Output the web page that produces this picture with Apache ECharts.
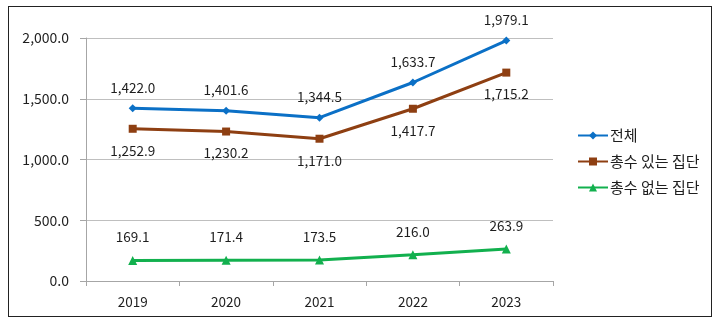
<!DOCTYPE html>
<html>
<head>
<meta charset="utf-8">
<script src="https://cdn.jsdelivr.net/npm/echarts@6/dist/echarts.min.js"></script>
<style>
html,body{margin:0;padding:0;background:#fff;}
#frame{position:absolute;left:8px;top:6px;width:704px;height:311px;border:1px solid #222;box-sizing:border-box;}
#chart{position:absolute;left:0;top:0;width:720px;height:322px;}
</style>
</head>
<body>
<div id="frame"></div>
<div id="chart"></div>
<script>
const categories = ['2019', '2020', '2021', '2022', '2023'];
const seriesNames = ['전체', '총수 있는 집단', '총수 없는 집단'];
const totalValues = [1422.0, 1401.6, 1344.5, 1633.7, 1979.1];
const withHeadValues = [1252.9, 1230.2, 1171.0, 1417.7, 1715.2];
const withoutHeadValues = [169.1, 171.4, 173.5, 216.0, 263.9];
const yTicks = [0, 500, 1000, 1500, 2000];

const fmt = v => Number(v).toLocaleString('en-US', {minimumFractionDigits: 1, maximumFractionDigits: 1});
const font = '"Noto Sans CJK KR", "Noto Sans", sans-serif';
const txt = '#1e1e1e';

const chart = echarts.init(document.getElementById('chart'), null, {renderer: 'canvas'});
const labelStyle = (pos, dist) => ({
  show: true, position: pos, distance: dist, color: txt, fontSize: 13.5, fontFamily: font,
  formatter: p => fmt(p.value)
});
chart.setOption({
  animation: false,
  textStyle: {fontFamily: font},
  grid: {left: 86, right: 167, top: 38, bottom: 41, containLabel: false},
  legend: {
    orient: 'vertical', left: 572, top: 123, itemWidth: 30, itemHeight: 10, itemGap: 11,
    textStyle: {color: txt, fontSize: 15, fontFamily: font, padding: [0, 0, 0, -3]},
    data: seriesNames
  },
  xAxis: {
    type: 'category', data: categories, boundaryGap: true,
    axisLine: {lineStyle: {color: '#A6A6A6', width: 1}},
    axisTick: {show: true, length: 5, lineStyle: {color: '#A6A6A6'}},
    axisLabel: {color: txt, fontSize: 13.5, fontFamily: font, margin: 14}
  },
  yAxis: {
    type: 'value', min: yTicks[0], max: yTicks[yTicks.length - 1], interval: 500,
    axisLine: {show: true, lineStyle: {color: '#A6A6A6', width: 1}},
    axisTick: {show: true, length: 6, lineStyle: {color: '#A6A6A6'}},
    splitLine: {lineStyle: {color: '#BFBFBF', width: 1}},
    axisLabel: {color: txt, fontSize: 14, fontFamily: font, margin: 17, formatter: v => fmt(v)}
  },
  series: [
    {name: seriesNames[0], type: 'line', data: totalValues, symbol: 'diamond', symbolSize: 8,
     lineStyle: {width: 3, color: '#0B70C6'}, itemStyle: {color: '#0B70C6'},
     label: labelStyle('top', 10)},
    {name: seriesNames[1], type: 'line', data: withHeadValues, symbol: 'rect', symbolSize: 8,
     lineStyle: {width: 3, color: '#8E3F12'}, itemStyle: {color: '#8E3F12'},
     label: labelStyle('bottom', 11)},
    {name: seriesNames[2], type: 'line', data: withoutHeadValues, symbol: 'triangle', symbolSize: 9,
     lineStyle: {width: 3, color: '#12B04E'}, itemStyle: {color: '#12B04E'},
     label: labelStyle('top', 12)}
  ]
});
</script>
</body>
</html>
